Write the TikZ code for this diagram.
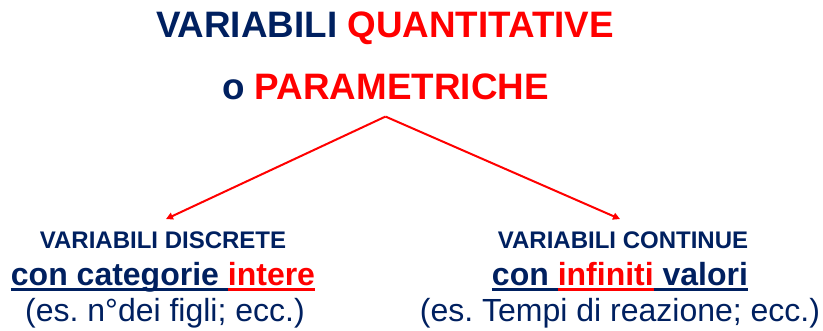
\documentclass[tikz,border=0pt]{standalone}
\usepackage{fontspec}
\setmainfont{Liberation Sans}
\usetikzlibrary{arrows.meta,positioning}
\definecolor{varnavy}{RGB}{0,32,96}
\definecolor{varred}{RGB}{255,0,0}
\frenchspacing
% underline a piece of text with a bar in its own colour
\newsavebox\ulbox
\newcommand\ulpart[2]{\sbox\ulbox{#2}\rlap{\color{#1}\rule[-5pt]{\wd\ulbox}{2.8pt}}\usebox\ulbox}

\begin{document}
\begin{tikzpicture}[x=1pt,y=-1pt,
  txt/.style={inner sep=0pt,anchor=base,text=varnavy},
  title/.style={txt,font=\fontsize{36.8}{40}\selectfont\bfseries},
  kind/.style={txt,font=\fontsize{24}{28}\selectfont\bfseries},
  what/.style={txt,font=\fontsize{32}{36}\selectfont\bfseries},
  example/.style={txt,font=\fontsize{32}{36}\selectfont},
  branch/.style={varred,line width=2pt,-{Triangle[length=7pt,width=7pt]}}]
  \useasboundingbox (0,0) rectangle (823,331);
  % title
  \node[title] (title1) at (385,38) {VARIABILI {\color{varred}QUANTITATIVE}};
  \node[title] (title2) at (385.5,100) {o {\color{varred}PARAMETRICHE}};
  % discrete side
  \node[kind] (discrete) at (163,249) {VARIABILI DISCRETE};
  \node[what] (discwhat) at (163,286) {\ulpart{varnavy}{con categorie }\ulpart{varred}{\color{varred}intere}};
  \node[example] (discex) at (165,322) {(es. n°dei figli; ecc.)};
  % continuous side
  \node[kind] (continuous) at (623,249) {VARIABILI CONTINUE};
  \node[what] (contwhat) at (620,286) {\ulpart{varnavy}{con }\ulpart{varred}{\color{varred}infiniti}\ulpart{varnavy}{ valori}};
  \node[example] (contex) at (620,322) {(es. Tempi di reazione; ecc.)};
  % branches
  \coordinate (apex) at ([yshift=-16pt]title2.south);
  \draw[branch] (apex) -- ([xshift=3pt,yshift=13pt]discrete.north);
  \draw[branch] (apex) -- ([xshift=-3pt,yshift=13pt]continuous.north);
\end{tikzpicture}
\end{document}
